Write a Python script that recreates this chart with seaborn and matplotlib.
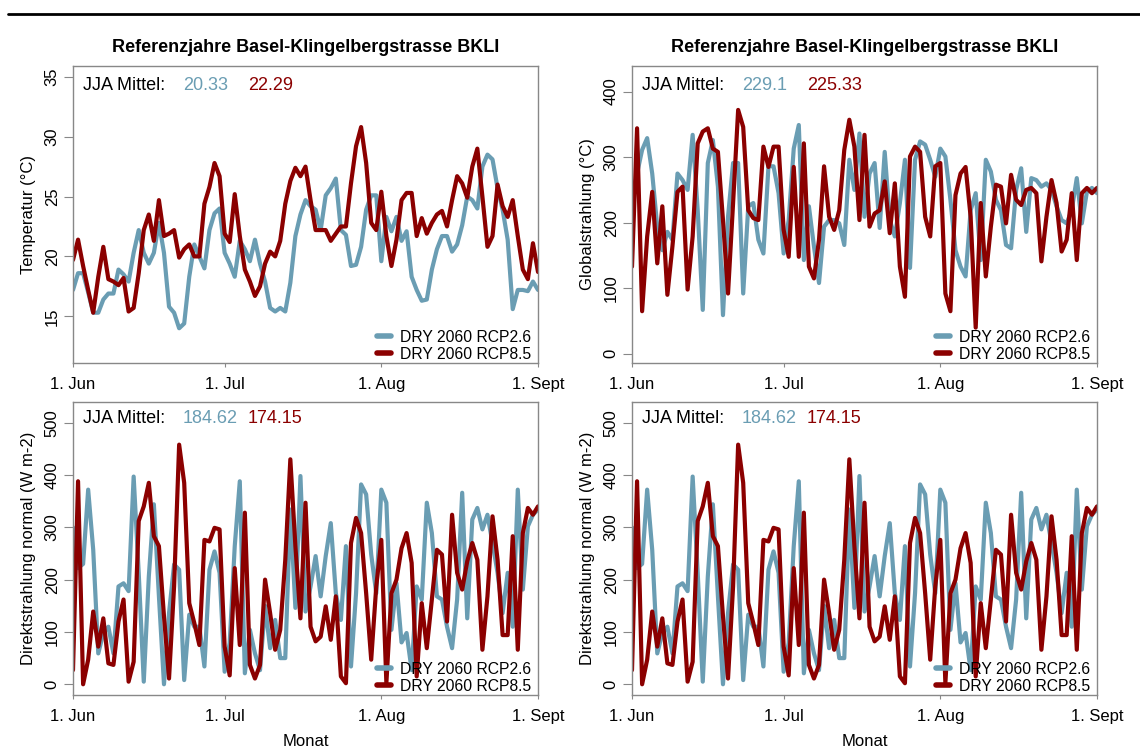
import numpy as np
import pandas as pd
import matplotlib
matplotlib.use("Agg")
import matplotlib.pyplot as plt
from matplotlib.lines import Line2D
import seaborn as sns

sns.set_style("ticks")
plt.rcParams["font.family"] = ["Liberation Sans", "DejaVu Sans"]
plt.rcParams["text.color"] = "black"
plt.rcParams["axes.labelcolor"] = "black"
plt.rcParams["xtick.labelcolor"] = "black"
plt.rcParams["ytick.labelcolor"] = "black"

# ---- data: daily values 1 Jun .. 1 Sept (93 days) ----
days = np.arange(93)
month_ticks = [0, 30, 61, 92]
month_labels = ["1. Jun", "1. Jul", "1. Aug", "1. Sept"]
series_names = ["DRY 2060 RCP2.6", "DRY 2060 RCP8.5"]
series_colors = ["#6A9DB3", "#8B0000"]

temp_rcp26 = [17.2, 18.6, 18.6, 17.0, 15.3, 15.3, 16.4, 16.9, 16.9, 18.9,
              18.5, 17.9, 20.3, 22.2, 20.3, 19.4, 20.3, 22.8, 20.3, 15.8,
              15.3, 14.0, 14.4, 18.3, 21.0, 20.0, 19.0, 22.2, 23.6, 24.0,
              20.3, 19.4, 18.3, 21.3, 20.6, 19.6, 21.4, 19.4, 17.9, 15.7,
              15.4, 15.7, 15.4, 17.8, 21.7, 23.5, 24.7, 24.2, 23.9, 22.2,
              25.1, 25.7, 26.5, 22.2, 21.8, 19.2, 19.3, 20.8, 23.9, 25.1,
              25.1, 19.6, 23.3, 22.1, 23.3, 21.3, 22.1, 18.3, 17.2, 16.3,
              16.4, 18.9, 20.6, 21.7, 21.7, 20.4, 21.0, 22.6, 25.0, 24.7,
              24.0, 27.5, 28.5, 28.1, 25.7, 23.9, 21.4, 15.6, 17.2, 17.2,
              17.1, 17.9, 17.2]
temp_rcp85 = [19.7, 21.4, 19.2, 17.2, 15.3, 18.3, 20.8, 18.1, 17.9, 17.6,
              18.2, 15.4, 15.7, 18.6, 22.2, 23.5, 21.3, 24.7, 21.7, 21.9,
              22.2, 19.9, 20.6, 21.0, 20.0, 20.0, 24.4, 25.8, 27.8, 26.7,
              21.9, 21.2, 25.2, 21.7, 18.9, 17.9, 16.7, 17.5, 19.4, 20.4,
              20.0, 21.3, 24.4, 26.3, 27.4, 26.7, 27.5, 24.7, 22.2, 22.2,
              22.2, 21.3, 21.9, 22.5, 22.5, 26.1, 29.2, 30.8, 27.8, 22.8,
              22.2, 25.4, 21.7, 19.2, 21.4, 24.7, 25.3, 25.3, 21.7, 23.2,
              21.9, 22.8, 23.5, 23.8, 22.5, 24.7, 26.7, 26.1, 24.9, 27.5,
              29.0, 25.0, 20.8, 21.7, 26.0, 24.2, 23.3, 24.7, 21.7, 18.9,
              18.1, 21.1, 18.7]

glob_rcp26 = [235, 275, 311, 329, 275, 194, 158, 186, 174, 275,
              265, 250, 334, 219, 67, 291, 326, 255, 59, 209,
              291, 291, 92, 225, 230, 174, 153, 286, 286, 245,
              153, 204, 313, 349, 143, 225, 164, 108, 194, 204,
              204, 199, 166, 296, 250, 336, 209, 275, 291, 192,
              308, 204, 179, 230, 296, 131, 296, 324, 319, 296,
              270, 313, 301, 235, 158, 133, 118, 219, 245, 143,
              296, 278, 235, 219, 166, 161, 250, 283, 186, 268,
              265, 255, 260, 250, 225, 204, 199, 219, 268, 199,
              247, 253, 245]
glob_rcp85 = [133, 344, 65, 179, 247, 138, 225, 90, 164, 247,
              255, 98, 179, 321, 339, 344, 313, 308, 204, 92,
              230, 372, 346, 219, 207, 204, 316, 285, 316, 316,
              189, 148, 285, 148, 321, 133, 115, 174, 286, 209,
              189, 219, 311, 357, 316, 204, 334, 194, 214, 219,
              263, 184, 260, 133, 87, 301, 316, 308, 209, 179,
              286, 291, 92, 65, 242, 275, 285, 209, 40, 230,
              118, 194, 258, 255, 199, 273, 235, 227, 250, 253,
              245, 141, 209, 265, 230, 156, 174, 245, 143, 245,
              253, 245, 253]

dir_rcp26 = [300, 222, 230, 372, 257, 59, 98, 110, 59, 187,
             193, 178, 397, 213, 5, 206, 344, 168, 0, 136,
             229, 219, 8, 133, 110, 110, 34, 219, 254, 213,
             24, 79, 264, 388, 21, 104, 59, 27, 150, 69,
             123, 50, 50, 334, 146, 398, 139, 187, 245, 168,
             245, 308, 174, 123, 264, 34, 174, 382, 363, 248,
             174, 372, 347, 104, 193, 80, 98, 27, 187, 162,
             347, 289, 168, 162, 110, 69, 162, 366, 126, 315,
             337, 296, 324, 270, 213, 136, 213, 110, 372, 181,
             302, 324, 334]
dir_rcp85 = [27, 388, 0, 47, 139, 72, 126, 40, 37, 120,
             162, 5, 43, 312, 340, 385, 283, 264, 130, 11,
             187, 458, 385, 155, 117, 75, 276, 273, 299, 296,
             72, 17, 222, 75, 328, 37, 11, 37, 200, 136,
             66, 104, 238, 430, 264, 126, 347, 110, 82, 91,
             149, 85, 168, 15, 2, 270, 318, 289, 174, 47,
             187, 276, 2, 174, 200, 260, 289, 232, 15, 155,
             69, 162, 257, 248, 120, 324, 213, 181, 235, 270,
             238, 66, 168, 321, 238, 94, 94, 283, 66, 289,
             337, 324, 340]

temp_means = ["20.33", "22.29"]
glob_means = ["229.1", "225.33"]
dir_means = ["184.62", "174.15"]

title_text = "Referenzjahre Basel-Klingelbergstrasse BKLI"

# ---- figure layout (pixel boxes) ----
W, H = 1140, 751
fig = plt.figure(figsize=(W / 100, H / 100), dpi=100)


def add_box(left, top, right, bottom):
    return fig.add_axes([left / W, 1 - bottom / H, (right - left) / W, (bottom - top) / H])


ax_tl = add_box(73, 66, 538, 363)
ax_tr = add_box(632, 66, 1097, 363)
ax_bl = add_box(73, 402, 538, 695)
ax_br = add_box(632, 402, 1097, 695)

spine_col = "#888888"


def draw_panel(ax, v26, v85, ylim, yticks, ylabel, means, title=None, xlabel=None):
    df = pd.DataFrame({
        "Tag": np.concatenate([days, days]),
        "Wert": np.concatenate([v26, v85]),
        "Szenario": [series_names[0]] * len(days) + [series_names[1]] * len(days),
    })
    sns.lineplot(data=df, x="Tag", y="Wert", hue="Szenario", hue_order=series_names,
                 palette=series_colors, linewidth=3, ax=ax, legend=False)
    for ln in ax.lines:
        ln.set_solid_joinstyle("round")
        ln.set_solid_capstyle("round")

    ax.set_xlim(0, 92)
    ax.set_ylim(*ylim)
    ax.set_xticks(month_ticks)
    ax.set_xticklabels(month_labels)
    ax.set_yticks(yticks)
    ax.set_yticklabels([str(t) for t in yticks], rotation=90, va="center")

    for sp in ax.spines.values():
        sp.set_visible(True)
        sp.set_color(spine_col)
        sp.set_linewidth(1.0)
    ax.tick_params(axis="y", length=6.5, width=0.8, color=spine_col, pad=3,
                   labelsize=12, labelcolor="black")
    ax.tick_params(axis="x", length=3, width=0.8, color=spine_col, pad=7,
                   labelsize=12, labelcolor="black")

    ax.set_ylabel(ylabel, fontsize=12, va="center", color="black")
    ax.yaxis.set_label_coords(-44 / 465, 0.5)
    if xlabel:
        h = ax.get_position().height * H
        ax.set_xlabel(xlabel, fontsize=12, va="center", color="black")
        ax.xaxis.set_label_coords(0.5, -46 / h)
    else:
        ax.set_xlabel("")

    h = ax.get_position().height * H
    if title:
        ax.text(0.5, 1 + 18 / h, title, transform=ax.transAxes, ha="center",
                va="center", fontsize=13, fontweight="bold", color="black")

    ytxt = 1 - (20 if title else 16) / h
    ax.text(10 / 465, ytxt, "JJA Mittel:", transform=ax.transAxes, ha="left",
            va="center", fontsize=13, color="black")
    ax.text(110 / 465, ytxt, means[0], transform=ax.transAxes, ha="left",
            va="center", fontsize=13, color=series_colors[0])
    ax.text(175 / 465, ytxt, means[1], transform=ax.transAxes, ha="left",
            va="center", fontsize=13, color=series_colors[1])

    handles = [Line2D([0], [0], color=c, lw=4, solid_capstyle="round") for c in series_colors]
    leg = ax.legend(handles, series_names, loc="lower right", bbox_to_anchor=(0.985, 0.005),
                    frameon=False, fontsize=11.3, handlelength=0.9, handletextpad=0.55,
                    labelspacing=0.1, borderpad=0, borderaxespad=0)
    for t in leg.get_texts():
        t.set_color("black")


draw_panel(ax_tl, temp_rcp26, temp_rcp85, (11.1, 35.9), [15, 20, 25, 30, 35],
           "Temperatur (°C)", temp_means, title=title_text)
draw_panel(ax_tr, glob_rcp26, glob_rcp85, (-14, 439), [0, 100, 200, 300, 400],
           "Globalstrahlung (°C)", glob_means, title=title_text)
draw_panel(ax_bl, dir_rcp26, dir_rcp85, (-20.5, 539.5), [0, 100, 200, 300, 400, 500],
           "Direktstrahlung normal (W m-2)", dir_means, xlabel="Monat")
draw_panel(ax_br, dir_rcp26, dir_rcp85, (-20.5, 539.5), [0, 100, 200, 300, 400, 500],
           "Direktstrahlung normal (W m-2)", dir_means, xlabel="Monat")

# page rule across the top
fig.add_artist(Line2D([8 / W, 1.0], [1 - 14 / H, 1 - 14 / H], color="black", lw=2))

fig.savefig("out.png", dpi=100)
